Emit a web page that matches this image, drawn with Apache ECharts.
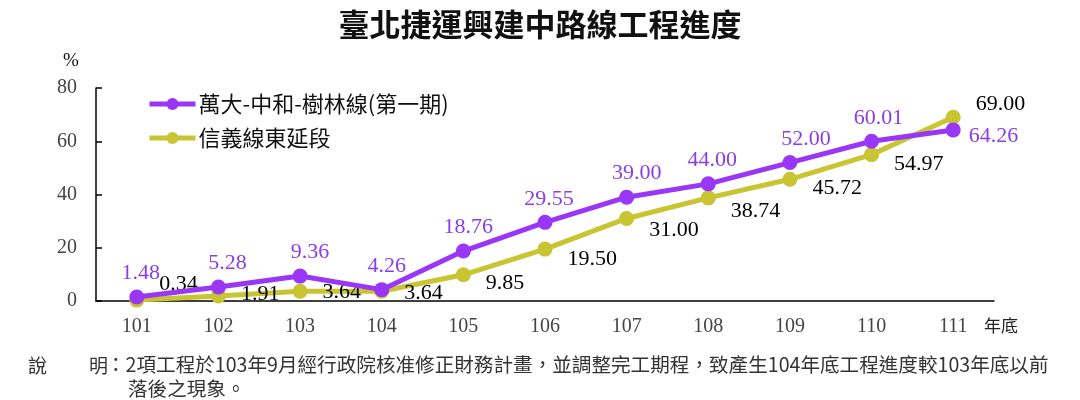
<!DOCTYPE html>
<html>
<head>
<meta charset="utf-8">
<script src="https://cdn.jsdelivr.net/npm/echarts@6/dist/echarts.min.js"></script>
<style>html,body{margin:0;padding:0;background:#fff}#c{width:1080px;height:400px}</style>
</head>
<body>
<div id="c"></div>
<script>
// ---- data ----
const categories = ['101','102','103','104','105','106','107','108','109','110','111'];
const wanDaValues = [1.48, 5.28, 9.36, 4.26, 18.76, 29.55, 39.00, 44.00, 52.00, 60.01, 64.26];
const xinyiValues = [0.34, 1.91, 3.64, 3.64, 9.85, 19.50, 31.00, 38.74, 45.72, 54.97, 69.00];
const yTicks = [0, 20, 40, 60, 80];
const seriesNames = ['萬大-中和-樹林線(第一期)', '信義線東延段'];
const titleText = '臺北捷運興建中路線工程進度';
const noteLine1 = '：2項工程於103年9月經行政院核准修正財務計畫，並調整完工期程，致產生104年底工程進度較103年底以前';
const noteLine2 = '落後之現象。';

// ---- label placement tweaks (style only) ----
const wanDaLabelDx = [4, 9, 10, 5, 5, 4, 10, 4, 16, 7, 0];
const xinyiLabelDy = [-16, -2, 1, 2, 8, 10, 12, 13, 9, 10, -13];

const PURPLE = '#9a36f6';
const PURPLE_TXT = '#8b3de6';
const OLIVE = '#c9c532';
const SERIF = '"Liberation Serif", "Times New Roman", serif';
const CJK = '"Noto Sans CJK TC", "Noto Sans", sans-serif';

const wanDaData = wanDaValues.map((v, i) => {
  const last = i === wanDaValues.length - 1;
  return {
    value: v,
    label: last
      ? { position: 'right', distance: 8, offset: [0, 6] }
      : { position: 'top', distance: 5, offset: [wanDaLabelDx[i], 0] }
  };
});
const xinyiData = xinyiValues.map((v, i) => ({
  value: v,
  label: { position: 'right', distance: 15, offset: [0, xinyiLabelDy[i]] }
}));

const chart = echarts.init(document.getElementById('c'), null, { renderer: 'canvas' });
chart.setOption({
  animation: false,
  backgroundColor: '#fff',
  title: {
    text: titleText,
    left: 'center',
    top: 4,
    textStyle: { fontFamily: CJK, fontSize: 31, fontWeight: 'bold', color: '#111' }
  },
  legend: {
    orient: 'vertical',
    left: 142,
    top: 88,
    itemWidth: 46,
    itemHeight: 15,
    itemGap: 12,
    lineStyle: { width: 5 },
    textStyle: { fontFamily: CJK, fontSize: 22, color: '#111', padding: [0, 0, 0, -2] },
    data: seriesNames
  },
  grid: { left: 96, right: 86, top: 88, bottom: 99, containLabel: false },
  xAxis: {
    type: 'category',
    data: categories,
    boundaryGap: true,
    axisLine: { lineStyle: { color: '#000', width: 1.5 } },
    axisTick: { inside: true, length: 6, lineStyle: { color: '#000', width: 1.5 } },
    axisLabel: { fontFamily: SERIF, fontSize: 20, color: '#444', margin: 16 }
  },
  yAxis: {
    type: 'value',
    min: yTicks[0],
    max: yTicks[yTicks.length - 1],
    interval: yTicks[1] - yTicks[0],
    splitLine: { show: false },
    axisLine: { show: true, lineStyle: { color: '#000', width: 1.5 } },
    axisTick: { show: true, inside: true, length: 6, lineStyle: { color: '#000', width: 1.5 } },
    axisLabel: { fontFamily: SERIF, fontSize: 20, color: '#444', margin: 19 }
  },
  series: [
    {
      name: seriesNames[0],
      type: 'line',
      data: wanDaData,
      symbol: 'circle',
      symbolSize: 15,
      z: 3,
      lineStyle: { color: PURPLE, width: 5 },
      itemStyle: { color: PURPLE },
      label: {
        show: true,
        fontFamily: SERIF,
        fontSize: 22,
        color: PURPLE_TXT,
        formatter: p => p.value.toFixed(2)
      }
    },
    {
      name: seriesNames[1],
      type: 'line',
      data: xinyiData,
      symbol: 'circle',
      symbolSize: 15,
      z: 2,
      lineStyle: { color: OLIVE, width: 5 },
      itemStyle: { color: OLIVE },
      label: {
        show: true,
        fontFamily: SERIF,
        fontSize: 22,
        color: '#000',
        formatter: p => p.value.toFixed(2)
      }
    }
  ],
  graphic: [
    { type: 'text', left: 63, top: 52, style: { text: '%', fontFamily: SERIF, fontSize: 19, fill: '#111' } },
    { type: 'text', left: 984, top: 317, style: { text: '年底', fontFamily: CJK, fontSize: 17, fill: '#222' } },
    { type: 'text', left: 28, top: 356, style: { text: '說', fontFamily: CJK, fontSize: 19, fill: '#333' } },
    { type: 'text', left: 89, top: 356, style: { text: '明', fontFamily: CJK, fontSize: 19, fill: '#333' } },
    { type: 'text', left: 106, top: 355, style: { text: noteLine1, fontFamily: CJK, fontSize: 19.6, fill: '#333' } },
    { type: 'text', left: 128, top: 379, style: { text: noteLine2, fontFamily: CJK, fontSize: 19.6, fill: '#333' } }
  ]
});
</script>
</body>
</html>
